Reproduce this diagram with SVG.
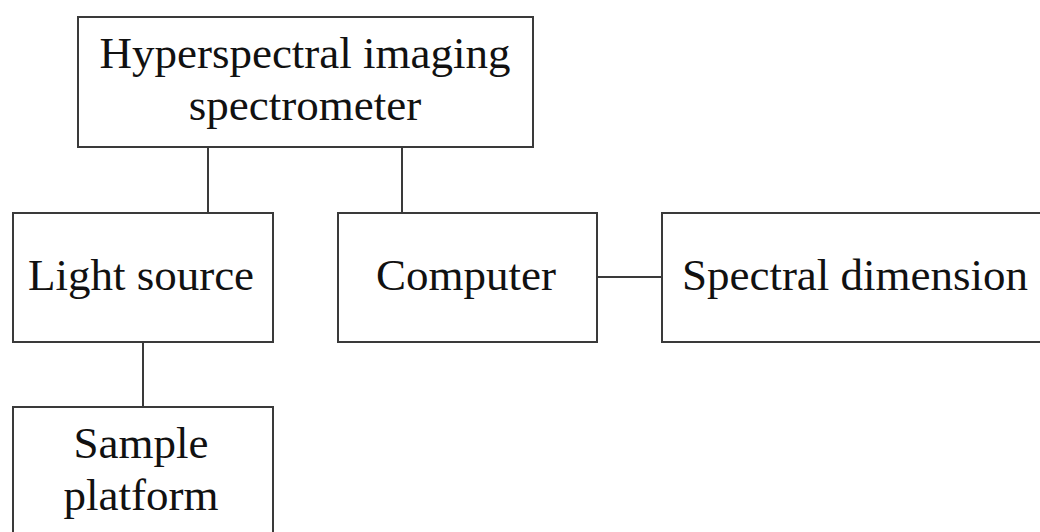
<svg xmlns="http://www.w3.org/2000/svg" width="1040" height="532" viewBox="0 0 1040 532">
<style>
.box{fill:#fff;stroke:#3a3a3a;stroke-width:2}
.lbl{font-family:"Liberation Serif","Times New Roman",serif;font-size:45px;fill:#111;text-anchor:middle}
.conn{stroke:#3a3a3a;stroke-width:2;fill:none}
</style>
<rect width="1040" height="532" fill="#fff"/>
<g id="connectors">
<line class="conn" x1="208" y1="147" x2="208" y2="213"/>
<line class="conn" x1="402" y1="147" x2="402" y2="213"/>
<line class="conn" x1="143" y1="342" x2="143" y2="407"/>
<line class="conn" x1="597" y1="277" x2="662" y2="277"/>
</g>
<g id="spectrometer">
<rect class="box" x="78" y="17" width="455" height="130"/>
<text class="lbl" x="305" y="68">Hyperspectral imaging</text>
<text class="lbl" x="305" y="120">spectrometer</text>
</g>
<g id="light-source">
<rect class="box" x="13" y="213" width="260" height="129"/>
<text class="lbl" x="141" y="290">Light source</text>
</g>
<g id="computer">
<rect class="box" x="338" y="213" width="259" height="129"/>
<text class="lbl" x="466" y="290">Computer</text>
</g>
<g id="spectral-dimension">
<rect class="box" x="662" y="213" width="390" height="129"/>
<text class="lbl" x="855" y="290">Spectral dimension</text>
</g>
<g id="sample-platform">
<rect class="box" x="13" y="407" width="260" height="140"/>
<text class="lbl" x="141" y="458">Sample</text>
<text class="lbl" x="141" y="510">platform</text>
</g>
</svg>
